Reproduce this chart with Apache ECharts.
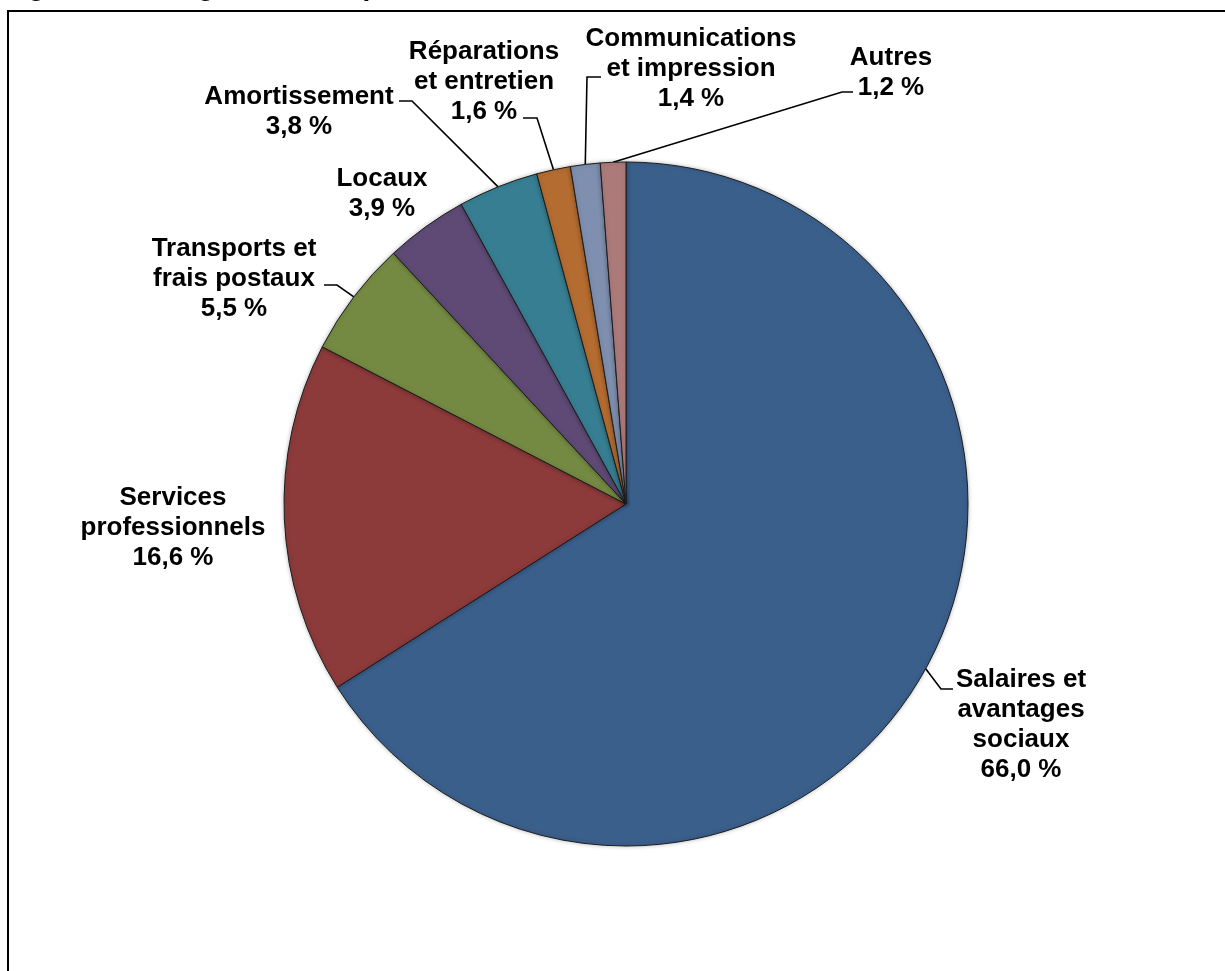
<!DOCTYPE html>
<html>
<head>
<meta charset="utf-8">
<script src="https://cdn.jsdelivr.net/npm/echarts@6/dist/echarts.min.js"></script>
<style>
  html, body { margin: 0; padding: 0; background: #ffffff; }
  #chart { width: 1225px; height: 971px; }
</style>
</head>
<body>
<div id="chart"></div>
<script>
// Spending categories, share of total (%), clockwise from 12 o'clock
const categories = [
  'Salaires et\navantages\nsociaux',
  'Services\nprofessionnels',
  'Transports et\nfrais postaux',
  'Locaux',
  'Amortissement',
  'Réparations\net entretien',
  'Communications\net impression',
  'Autres'
];
const shares = [66.0, 16.6, 5.5, 3.9, 3.8, 1.6, 1.4, 1.2];

const sliceColors = ['#3a5f8b', '#8c3a3a', '#748a42', '#5e4a75', '#377e92', '#b46c30', '#7f8faf', '#ad7a7a'];

// Where each label block sits (centre) and the leader-line elbow/end; null = no leader
const labelCentres = [[1021, 725], [173, 528], [234, 279], [382, 194], [299, 112], [484, 82], [691, 69], [891, 73]];
const leaderBends = [
  [[941, 689], [953, 689]],
  null,
  [[337, 285], [324, 285]],
  null,
  [[412, 101], [399, 101]],
  [[537, 118], [523, 118]],
  [[587, 77], [601, 77]],
  [[842, 92], [853, 92]]
];

const fmtPct = v => v.toFixed(1).replace('.', ',') + ' %';

const chart = echarts.init(document.getElementById('chart'), null, { renderer: 'canvas' });

chart.setOption({
  animation: false,
  backgroundColor: '#ffffff',
  graphic: [
    {
      type: 'text',
      left: 3,
      top: -27,
      style: {
        text: 'Figure 1 : Catégories de dépenses',
        font: 'bold 28px "Liberation Sans", Arial, sans-serif',
        fill: '#000000'
      },
      z: 10
    },
    {
      type: 'rect',
      shape: { x: 8, y: 11, width: 1240, height: 1000 },
      style: { fill: 'none', stroke: '#000000', lineWidth: 2 },
      z: 10
    }
  ],
  series: [{
    type: 'pie',
    center: [626, 504],
    radius: 342,
    startAngle: 90,
    clockwise: true,
    avoidLabelOverlap: false,
    itemStyle: {
      borderColor: '#1c1c1c',
      borderWidth: 1,
      shadowBlur: 4,
      shadowColor: 'rgba(0,0,0,0.25)'
    },
    emphasis: { disabled: true },
    label: {
      show: true,
      position: 'outside',
      formatter: p => p.name + '\n' + fmtPct(p.value),
      fontFamily: '"Liberation Sans", Arial, sans-serif',
      fontWeight: 'bold',
      fontSize: 26,
      lineHeight: 30,
      color: '#000000',
      align: 'center'
    },
    labelLine: {
      show: true,
      length: 20,
      length2: 12,
      lineStyle: { color: '#000000', width: 1.6 }
    },
    labelLayout: function (params) {
      const i = params.dataIndex;
      const c = labelCentres[i];
      const out = { x: c[0], y: c[1], align: 'center', verticalAlign: 'middle' };
      const bend = leaderBends[i];
      if (bend && params.labelLinePoints) {
        out.labelLinePoints = [params.labelLinePoints[0], bend[0], bend[1]];
      }
      return out;
    },
    data: categories.map((name, i) => ({
      name: name,
      value: shares[i],
      itemStyle: { color: sliceColors[i] },
      labelLine: { show: leaderBends[i] !== null }
    }))
  }]
});
</script>
</body>
</html>
